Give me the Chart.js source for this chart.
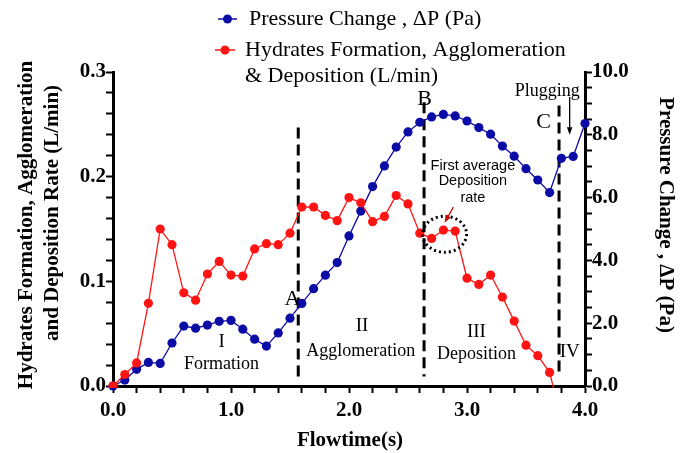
<!DOCTYPE html>
<html>
<head>
<meta charset="utf-8">
<title>Hydrates formation and pressure change vs flowtime</title>
<script src="https://cdn.jsdelivr.net/npm/chart.js@4.4.1/dist/chart.umd.min.js"></script>
<style>
  html, body { margin: 0; padding: 0; background: #fff; }
  canvas { display: block; }
</style>
</head>
<body>
<canvas id="hydrateChart" width="688" height="453"></canvas>
<script>
// === Data ===
const flowtime = [0.0, 0.1, 0.2, 0.3, 0.4, 0.5, 0.6, 0.7, 0.8, 0.9, 1.0,
  1.1, 1.2, 1.3, 1.4, 1.5, 1.6, 1.7, 1.8, 1.9, 2.0,
  2.1, 2.2, 2.3, 2.4, 2.5, 2.6, 2.7, 2.8, 2.9, 3.0,
  3.1, 3.2, 3.3, 3.4, 3.5, 3.6, 3.7, 3.8, 3.9, 4.0];

// L/min, left axis (last reading falls below zero, line runs into the axis)
const hydrateRate = [0.000, 0.011, 0.022, 0.079, 0.150, 0.135, 0.089, 0.082, 0.107, 0.119, 0.106,
  0.105, 0.131, 0.136, 0.135, 0.146, 0.171, 0.171, 0.163, 0.158, 0.180,
  0.175, 0.157, 0.162, 0.182, 0.174, 0.146, 0.141, 0.149, 0.148, 0.103,
  0.097, 0.106, 0.085, 0.062, 0.039, 0.029, 0.013, -0.032, null, null];

// Pa, right axis
const pressureChange = [0.00, 0.19, 0.53, 0.75, 0.72, 1.37, 1.91, 1.84, 1.94, 2.06, 2.09,
  1.81, 1.49, 1.27, 1.69, 2.16, 2.63, 3.10, 3.53, 3.93, 4.78,
  5.57, 6.35, 7.01, 7.61, 8.09, 8.40, 8.57, 8.65, 8.60, 8.44,
  8.23, 8.02, 7.64, 7.32, 6.92, 6.56, 6.16, 7.25, 7.31, 8.36];

const xTickLabels = ["0.0", "1.0", "2.0", "3.0", "4.0"];
const leftTickLabels = ["0.0", "0.1", "0.2", "0.3"];
const rightTickLabels = ["0.0", "2.0", "4.0", "6.0", "8.0", "10.0"];

// phase boundaries (flowtime) and their dashed extent on the left axis
const phaseBounds = [
  { x: 1.57, top: 0.247, bottom: 0.006 },
  { x: 2.636, top: 0.271, bottom: 0.009 },
  { x: 3.78, top: 0.268, bottom: 0.011 },
];

const SERIF = "'Liberation Serif', 'Times New Roman', serif";
const SANS = "'Liberation Sans', Arial, sans-serif";
const BLUE = "#0b0ba6";
const RED = "#ff1414";

// annotations in data coordinates (x: flowtime, y: left axis)
const notes = [
  { text: "A", x: 1.52, y: 0.083, size: 22 },
  { text: "B", x: 2.64, y: 0.274, size: 22 },
  { text: "C", x: 3.65, y: 0.252, size: 22 },
  { text: "Plugging", x: 3.68, y: 0.2815, size: 18 },
  { text: "I", x: 0.92, y: 0.042, size: 19 },
  { text: "Formation", x: 0.92, y: 0.0205, size: 18 },
  { text: "II", x: 2.11, y: 0.057, size: 19 },
  { text: "Agglomeration", x: 2.10, y: 0.033, size: 18 },
  { text: "III", x: 3.08, y: 0.0515, size: 19 },
  { text: "Deposition", x: 3.08, y: 0.030, size: 18 },
  { text: "IV", x: 3.87, y: 0.032, size: 19 },
  { text: "First average", x: 3.05, y: 0.210, size: 14.5, sans: true },
  { text: "Deposition", x: 3.05, y: 0.1955, size: 14.5, sans: true },
  { text: "rate", x: 3.05, y: 0.180, size: 14.5, sans: true },
];

const pickLabel = (labels) => (v) => {
  const hit = labels.find(l => Math.abs(parseFloat(l) - v) < 1e-6);
  return hit === undefined ? "" : hit;
};

const drawArrow = (ctx, x1, y1, x2, y2, color, head) => {
  const ang = Math.atan2(y2 - y1, x2 - x1);
  ctx.save();
  ctx.strokeStyle = color;
  ctx.fillStyle = color;
  ctx.lineWidth = 1.3;
  ctx.beginPath();
  ctx.moveTo(x1, y1);
  ctx.lineTo(x2 - Math.cos(ang) * head * 0.8, y2 - Math.sin(ang) * head * 0.8);
  ctx.stroke();
  ctx.beginPath();
  ctx.moveTo(x2, y2);
  ctx.lineTo(x2 - head * Math.cos(ang - 0.35), y2 - head * Math.sin(ang - 0.35));
  ctx.lineTo(x2 - head * Math.cos(ang + 0.35), y2 - head * Math.sin(ang + 0.35));
  ctx.closePath();
  ctx.fill();
  ctx.restore();
};

// === Phase lines (under the data) ===
const phasePlugin = {
  id: "phaseLines",
  beforeDatasetsDraw(chart) {
    const { ctx, scales: { x, y } } = chart;
    ctx.save();
    ctx.strokeStyle = "#000";
    ctx.lineWidth = 3;
    ctx.setLineDash([11, 6]);
    phaseBounds.forEach(b => {
      const px = x.getPixelForValue(b.x);
      ctx.beginPath();
      ctx.moveTo(px, y.getPixelForValue(b.top));
      ctx.lineTo(px, y.getPixelForValue(b.bottom));
      ctx.stroke();
    });
    ctx.restore();
  },
};

// === Labels, legend and axis titles ===
const overlayPlugin = {
  id: "overlay",
  afterDraw(chart) {
    const { ctx, scales: { x, y } } = chart;
    ctx.save();
    ctx.fillStyle = "#000";
    ctx.textAlign = "center";
    ctx.textBaseline = "middle";

    notes.forEach(n => {
      ctx.font = `${n.size}px ${n.sans ? SANS : SERIF}`;
      ctx.fillText(n.text, x.getPixelForValue(n.x), y.getPixelForValue(n.y));
    });

    // dotted ellipse around the first deposition readings
    ctx.save();
    ctx.lineWidth = 3;
    ctx.setLineDash([2, 3]);
    ctx.beginPath();
    ctx.ellipse(x.getPixelForValue(2.81), y.getPixelForValue(0.145), 22, 18, 0, 0, Math.PI * 2);
    ctx.stroke();
    ctx.restore();

    drawArrow(ctx, x.getPixelForValue(2.885), y.getPixelForValue(0.171),
      x.getPixelForValue(2.81), y.getPixelForValue(0.156), "#c00000", 8);
    drawArrow(ctx, x.getPixelForValue(3.87), y.getPixelForValue(0.276),
      x.getPixelForValue(3.87), y.getPixelForValue(0.240), "#000", 8);

    // legend
    const legendRows = [
      { color: BLUE, y: 19, x0: 218, x1: 237, tx: 249, lines: ["Pressure Change , \u0394P (Pa)"] },
      { color: RED, y: 50, x0: 215, x1: 235, tx: 245, lines: ["Hydrates Formation, Agglomeration", "& Deposition (L/min)"] },
    ];
    legendRows.forEach(r => {
      ctx.strokeStyle = r.color;
      ctx.fillStyle = r.color;
      ctx.lineWidth = 1.5;
      ctx.beginPath();
      ctx.moveTo(r.x0, r.y);
      ctx.lineTo(r.x1, r.y);
      ctx.stroke();
      ctx.beginPath();
      ctx.arc((r.x0 + r.x1) / 2, r.y, 4.5, 0, Math.PI * 2);
      ctx.fill();
      ctx.fillStyle = "#000";
      ctx.textAlign = "left";
      ctx.font = `22px ${SERIF}`;
      r.lines.forEach((t, i) => ctx.fillText(t, r.tx, r.y + i * 26));
    });

    // axis titles
    ctx.fillStyle = "#000";
    ctx.textAlign = "center";
    ctx.font = `bold 21px ${SERIF}`;
    ctx.fillText("Flowtime(s)", 350, 441);

    ctx.save();
    ctx.translate(27, 225);
    ctx.rotate(-Math.PI / 2);
    ctx.fillText("Hydrates Formation, Agglomeration", 0, 0);
    ctx.restore();
    ctx.save();
    ctx.translate(53, 213);
    ctx.rotate(-Math.PI / 2);
    ctx.fillText("and Deposition Rate (L/min)", 0, 0);
    ctx.restore();

    ctx.save();
    ctx.translate(665, 215);
    ctx.rotate(Math.PI / 2);
    ctx.fillText("Pressure Change , \u0394P (Pa)", 0, 0);
    ctx.restore();

    ctx.restore();
  },
};

const tickFont = { family: SERIF, size: 21, weight: "bold" };
const axisGrid = { drawOnChartArea: false, color: "#000", tickLength: 7, tickWidth: 2 };
const axisBorder = { color: "#000", width: 3 };

new Chart(document.getElementById("hydrateChart"), {
  type: "line",
  data: {
    datasets: [
      {
        label: "Hydrates Formation, Agglomeration & Deposition (L/min)",
        data: flowtime.map((t, i) => ({ x: t, y: hydrateRate[i] })),
        yAxisID: "y",
        borderColor: RED,
        backgroundColor: RED,
        borderWidth: 1.3,
        pointRadius: (c) => (c.raw && c.raw.y < 0 ? 0 : 4.6),
        pointBorderWidth: 0,
        pointBackgroundColor: RED,
        tension: 0,
        spanGaps: false,
        clip: { left: 8, top: 8, right: 8, bottom: 2 },
      },
      {
        label: "Pressure Change , \u0394P (Pa)",
        data: flowtime.map((t, i) => ({ x: t, y: pressureChange[i] })),
        yAxisID: "y1",
        borderColor: BLUE,
        backgroundColor: BLUE,
        borderWidth: 1.3,
        pointRadius: 4.6,
        pointBorderWidth: 0,
        pointBackgroundColor: BLUE,
        tension: 0,
        clip: 8,
      },
    ],
  },
  options: {
    responsive: false,
    animation: false,
    events: [],
    layout: { padding: { top: 72, left: 0, right: 0, bottom: 0 } },
    plugins: {
      legend: { display: false },
      tooltip: { enabled: false },
    },
    scales: {
      x: {
        type: "linear",
        position: "bottom",
        min: 0,
        max: 4,
        ticks: {
          stepSize: 0.2,
          autoSkip: false,
          maxRotation: 0,
          color: "#000",
          font: tickFont,
          padding: 5,
          callback: pickLabel(xTickLabels),
        },
        grid: axisGrid,
        border: axisBorder,
        afterFit: (s) => { s.height = 67; },
      },
      y: {
        type: "linear",
        position: "left",
        min: 0,
        max: 0.3,
        ticks: {
          stepSize: 0.02,
          autoSkip: false,
          color: "#000",
          font: tickFont,
          padding: 0,
          callback: pickLabel(leftTickLabels),
        },
        grid: axisGrid,
        border: axisBorder,
        afterFit: (s) => { s.width = 113; },
      },
      y1: {
        type: "linear",
        position: "right",
        min: 0,
        max: 10,
        ticks: {
          stepSize: 0.5,
          autoSkip: false,
          color: "#000",
          font: tickFont,
          padding: 0,
          callback: pickLabel(rightTickLabels),
        },
        grid: axisGrid,
        border: axisBorder,
        afterFit: (s) => { s.width = 103; },
      },
    },
  },
  plugins: [phasePlugin, overlayPlugin],
});
</script>
</body>
</html>
